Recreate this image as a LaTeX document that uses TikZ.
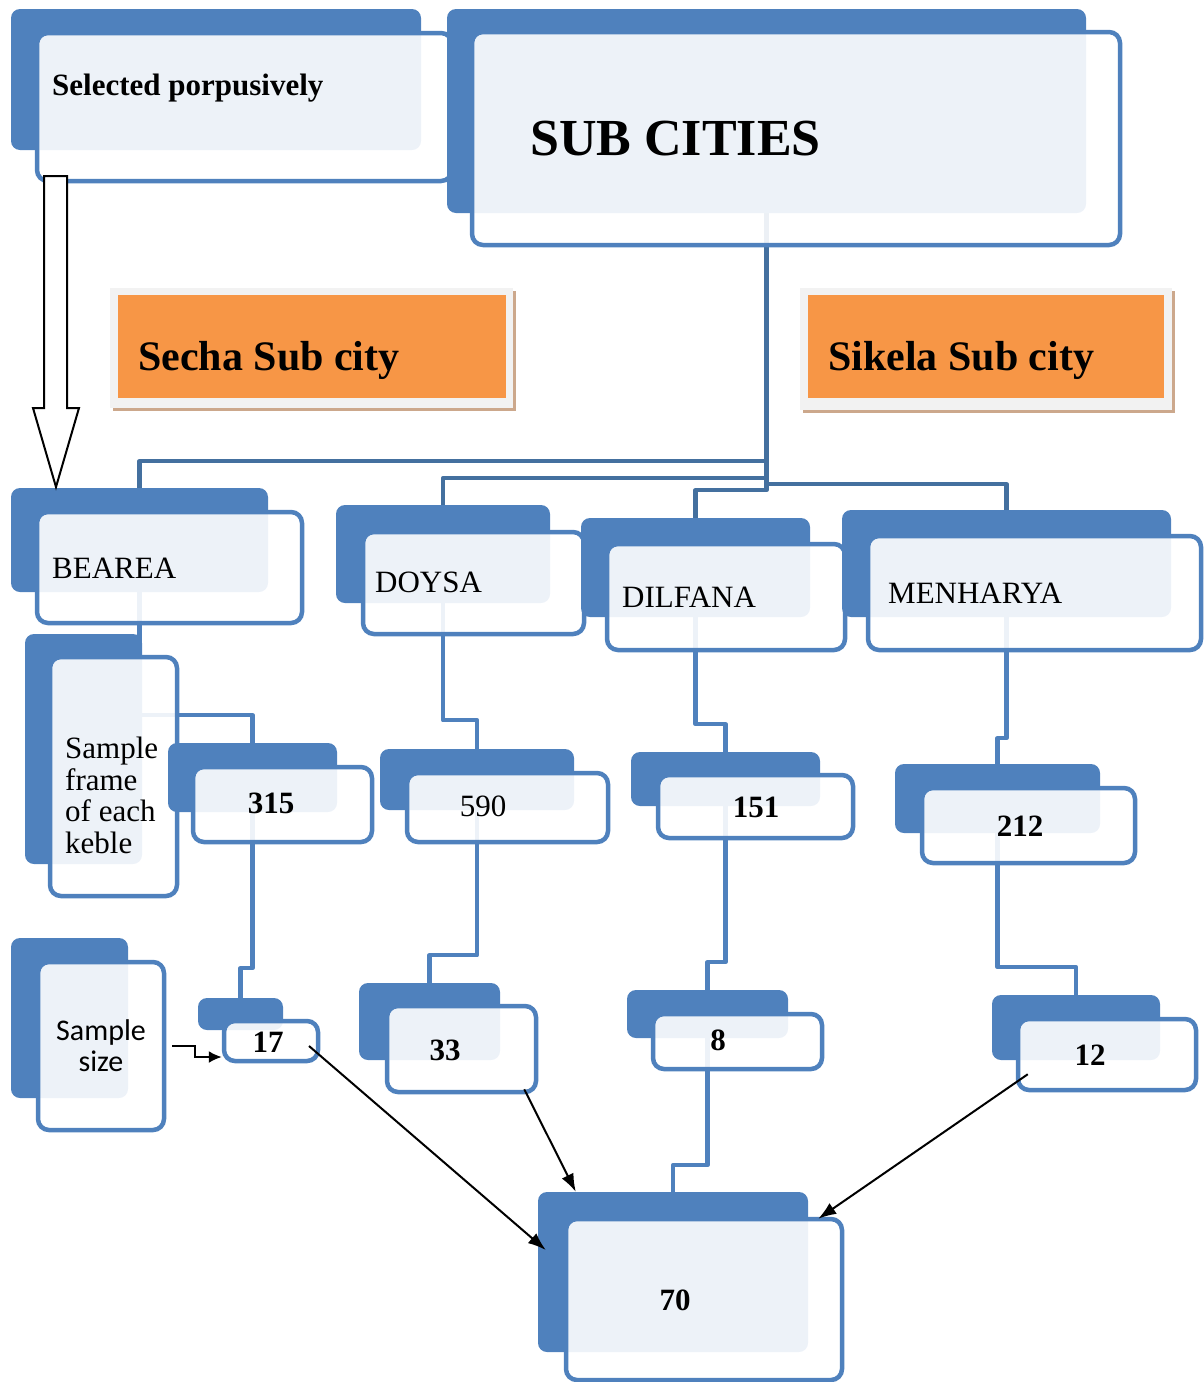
\documentclass[tikz,border=0pt]{standalone}
\usepackage{fontspec}
\setmainfont{Liberation Serif}
\newfontfamily\labelsans{Carlito}
\usetikzlibrary{fit,positioning,shadows,arrows.meta}

\definecolor{boxblue}{HTML}{4F81BD}
\definecolor{trunkblue}{HTML}{44709F}
\definecolor{cityorange}{HTML}{F79646}
\definecolor{framegrey}{HTML}{F2F2F2}
\definecolor{cityshadow}{RGB}{204,168,140}

\pgfdeclarelayer{background}
\pgfsetlayers{background,main}

\tikzset{
  backbox/.style={fill=boxblue, rounded corners=9pt, inner sep=0pt},
  frontbox/.style={draw=boxblue, line width=4.5pt, fill=white, fill opacity=0.9, rounded corners=11pt, inner sep=0pt},
  cityframe/.style={fill=framegrey, inner sep=0pt, drop shadow={shadow xshift=3pt, shadow yshift=-3pt, fill=cityshadow, opacity=1}},
  citybox/.style={fill=cityorange, inner sep=0pt},
  link/.style={draw=boxblue, line width=4.5pt, line join=round},
  trunk/.style={draw=trunkblue, line width=4.5pt, line join=round},
  pointer/.style={draw=black, line width=2pt, -{Latex[length=18pt,width=13pt]}},
  hollowarrow/.style={draw=black, line width=2pt, fill=white, line join=miter},
  plaintext/.style={font=\fontsize{31}{31}\selectfont, inner sep=0pt},
  boldtext/.style={font=\fontsize{31}{31}\selectfont\bfseries, inner sep=0pt}
}

\begin{document}
\begin{tikzpicture}[x=1pt,y=-1pt]
\useasboundingbox (0,0) rectangle (1204,1382);

% top row
\node[backbox, fit={(11,9)(421,150)}] (b-sel) {};
\node[frontbox, fit={(37,33)(452,181)}] (sel) {};
\node[boldtext, anchor=base west] (sel-text) at (52,95) {Selected porpusively};

\node[backbox, fit={(447,9)(1086,213)}] (b-subc) {};
\node[frontbox, fit={(472,32)(1120,245)}] (subc) {};
\node[font=\fontsize{52}{52}\selectfont\bfseries, inner sep=0pt, anchor=base west] (subc-text) at (530,155) {SUB CITIES};

% sub city titles
\node[cityframe, fit={(110,288)(513,408)}] (f-secha) {};
\node[citybox, fit={(118,295)(506,398)}] (secha) {};
\node[font=\fontsize{42}{42}\selectfont\bfseries, inner sep=0pt, anchor=base west] (secha-text) at (138,370) {Secha Sub city};

\node[cityframe, fit={(800,288)(1172,410)}] (f-sikela) {};
\node[citybox, fit={(808,295)(1164,398)}] (sikela) {};
\node[font=\fontsize{42}{42}\selectfont\bfseries, inner sep=0pt, anchor=base west] (sikela-text) at (828,370) {Sikela Sub city};

% kebeles
\node[backbox, fit={(11,488)(268,592)}] (b-bearea) {};
\node[frontbox, fit={(37,512)(302,623)}] (bearea) {};
\node[plaintext, anchor=base west] (bearea-text) at (52,578) {BEAREA};

\node[backbox, fit={(336,505)(550,603)}] (b-doysa) {};
\node[frontbox, fit={(363,532)(584,634)}] (doysa) {};
\node[plaintext, anchor=base west] (doysa-text) at (375,592) {DOYSA};

\node[backbox, fit={(581,518)(810,617)}] (b-dilfana) {};
\node[frontbox, fit={(607,544)(845,650)}] (dilfana) {};
\node[plaintext, anchor=base west] (dilfana-text) at (622,607) {DILFANA};

\node[backbox, fit={(842,510)(1171,617)}] (b-menharya) {};
\node[frontbox, fit={(868,536)(1201,650)}] (menharya) {};
\node[plaintext, anchor=base west] (menharya-text) at (888,603) {MENHARYA};

% sample frame row
\node[backbox, fit={(25,634)(142,864)}] (b-frame) {};
\node[frontbox, fit={(50,657)(177,896)}] (frame) {};
\node[inner sep=0pt, align=left, anchor=north west, font=\fontsize{31}{31.5}\selectfont] (frame-text) at (65,737) {Sample\\frame\\of each\\keble};

\node[backbox, fit={(168,743)(337,812)}] (b-n315) {};
\node[frontbox, fit={(193,767)(372,842)}] (n315) {};
\node[boldtext, anchor=base] (n315-text) at (271,813) {315};

\node[backbox, fit={(380,749)(574,810)}] (b-n590) {};
\node[frontbox, fit={(407,773)(608,842)}] (n590) {};
\node[plaintext, anchor=base] (n590-text) at (483,816) {590};

\node[backbox, fit={(631,752)(820,806)}] (b-n151) {};
\node[frontbox, fit={(658,775)(853,838)}] (n151) {};
\node[boldtext, anchor=base] (n151-text) at (756,817) {151};

\node[backbox, fit={(895,764)(1100,833)}] (b-n212) {};
\node[frontbox, fit={(922,788)(1135,863)}] (n212) {};
\node[boldtext, anchor=base] (n212-text) at (1020,836) {212};

% sample size row
\node[backbox, fit={(11,938)(128,1098)}] (b-size) {};
\node[frontbox, fit={(38,962)(164,1130)}] (size) {};
\node[inner sep=0pt, align=center, anchor=north, font=\labelsans\fontsize{30}{31}\selectfont] (size-text) at (101,1019) {Sample\\size};

\node[backbox, fit={(198,998)(283,1030)}] (b-n17) {};
\node[frontbox, fit={(224,1021)(318,1061)}] (n17) {};
\node[boldtext, anchor=base] (n17-text) at (268,1052) {17};

\node[backbox, fit={(359,983)(500,1060)}] (b-n33) {};
\node[frontbox, fit={(387,1006)(536,1092)}] (n33) {};
\node[boldtext, anchor=base] (n33-text) at (445,1060) {33};

\node[backbox, fit={(627,990)(788,1038)}] (b-n8) {};
\node[frontbox, fit={(653,1014)(822,1069)}] (n8) {};
\node[boldtext, anchor=base] (n8-text) at (718,1050) {8};

\node[backbox, fit={(992,995)(1160,1060)}] (b-n12) {};
\node[frontbox, fit={(1018,1019)(1196,1090)}] (n12) {};
\node[boldtext, anchor=base] (n12-text) at (1090,1065) {12};

% total
\node[backbox, fit={(538,1192)(808,1352)}] (b-n70) {};
\node[frontbox, fit={(566,1219)(842,1380)}] (n70) {};
\node[boldtext, anchor=base] (n70-text) at (675,1310) {70};

% tree lines behind the boxes
\begin{pgfonlayer}{background}
\foreach \kb/\dy in {bearea/248, doysa/265, dilfana/277, menharya/271}
  \draw[trunk] (b-subc.south) -- ++(0,\dy) -| (b-\kb.north);
\foreach \from/\to/\dy in {bearea/n315/123, n315/n17/156, doysa/n590/117, n590/n33/145,
    dilfana/n151/107, n151/n8/156, menharya/n212/121, n212/n12/134, n8/n70/127}
  \draw[link] (b-\from.south) -- ++(0,\dy) -| (b-\to.north);
\end{pgfonlayer}

% arrows
\draw[hollowarrow] (44,176) -- (67,176) -- (67,408) -- (79,408) -- (56,487) -- (33,408) -- (44,408) -- cycle;
\draw[draw=black, line width=2pt, -{Latex[length=13pt,width=12pt]}] ([xshift=6pt]size.east) -- ++(23,0) |- ([yshift=-16pt]n17.west);
\draw[pointer] ([xshift=38pt,yshift=-5pt]n17.center) -- ([xshift=8pt,yshift=22pt]b-n70.west);
\draw[pointer] ([xshift=-14pt,yshift=5pt]n33.south east) -- ([xshift=38pt]b-n70.north west);
\draw[pointer] ([xshift=12pt,yshift=18pt]n12.south west) -- ([xshift=-26pt,yshift=-2pt]n70.north east);
\end{tikzpicture}
\end{document}
